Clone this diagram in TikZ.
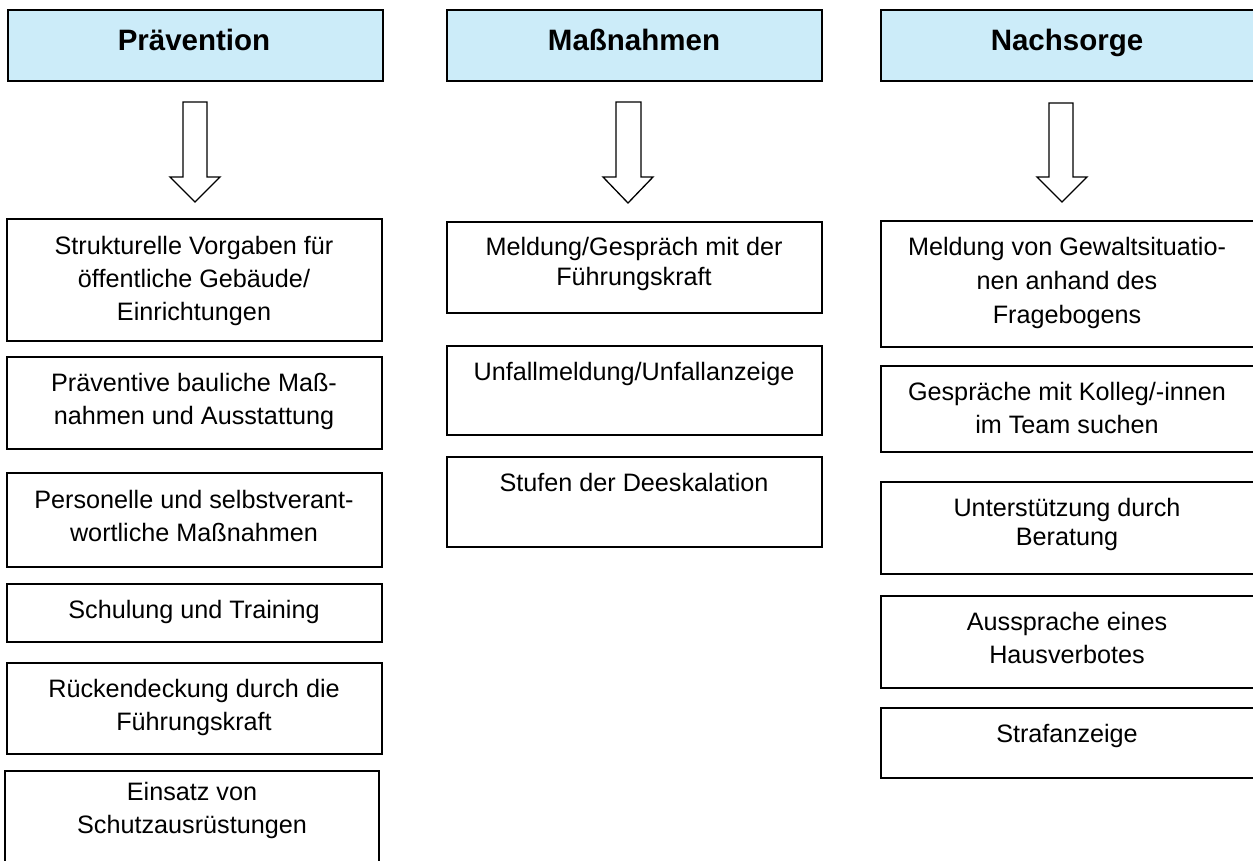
\documentclass[tikz,border=0pt]{standalone}
\usepackage{fontspec}
\setmainfont{Liberation Sans}
\definecolor{hdrfill}{RGB}{204,236,249}
\tikzset{
  hdr/.style={draw=black, line width=2pt, fill=hdrfill, minimum width=375pt, minimum height=71pt, inner sep=0pt},
  box/.style={draw=black, line width=1.8pt, minimum width=375pt, inner sep=0pt},
  hdrtxt/.style={font=\fontsize{29.5}{35}\selectfont\bfseries, anchor=base, inner sep=0pt},
  txt/.style={align=center, anchor=base, inner sep=0pt, font=\fontsize{25.2}{33}\selectfont},
  txtb/.style={txt, font=\fontsize{25.2}{30}\selectfont},
  blockarrow/.style={draw=black, line width=1.3pt, fill=white, line join=miter},
}
\begin{document}
\begin{tikzpicture}[x=1pt,y=-1pt]
\useasboundingbox (0,0) rectangle (1253,860);
\clip (0,0) rectangle (1253,860);

% headers
\node[hdr] (hp) at (195.5,45.5) {};
\node[hdr] (hm) at (634.5,45.5) {};
\node[hdr] (hn) at (1068.5,45.5) {};
\node[hdrtxt] (hpt) at (194,50) {Prävention};
\node[hdrtxt] (hmt) at (634,50) {Maßnahmen};
\node[hdrtxt] (hnt) at (1067,50) {Nachsorge};

% block arrows
\draw[blockarrow] (183,102) -- (207,102) -- (207,177) -- (220,177) -- (195,202) -- (170,177) -- (183,177) -- cycle;
\draw[blockarrow] (616,102) -- (641,102) -- (641,177) -- (653,177) -- (628,203) -- (603,177) -- (616,177) -- cycle;
\draw[blockarrow] (1049,103) -- (1073,103) -- (1073,177) -- (1087,177) -- (1062,202) -- (1037,177) -- (1049,177) -- cycle;

% left column
\node[box, minimum height=122pt] (p1) at (194.5,280) {};
\node[box, minimum height=92pt] (p2) at (194.5,403) {};
\node[box, minimum height=94pt] (p3) at (194.5,520) {};
\node[box, minimum height=58pt] (p4) at (194.5,613) {};
\node[box, minimum height=91pt] (p5) at (194.5,708.5) {};
\node[box, minimum width=374pt, minimum height=128pt] (p6) at (192,835) {};
\node[txt] (p1t) at (194,320) {Strukturelle Vorgaben für\\öffentliche Gebäude/\\Einrichtungen};
\node[txt] (p2t) at (194,424) {Präventive bauliche Maß-\\nahmen und Ausstattung};
\node[txt] (p3t) at (194,541) {Personelle und selbstverant-\\wortliche Maßnahmen};
\node[txt] (p4t) at (194,618) {Schulung und Training};
\node[txt] (p5t) at (194,730) {Rückendeckung durch die\\Führungskraft};
\node[txt] (p6t) at (192,833) {Einsatz von\\Schutzausrüstungen};

% middle column
\node[box, minimum height=91pt] (m1) at (634.5,267.5) {};
\node[box, minimum height=89pt] (m2) at (634.5,390.5) {};
\node[box, minimum height=90pt] (m3) at (634.5,502) {};
\node[txtb] (m1t) at (634,285) {Meldung/Gespräch mit der\\Führungskraft};
\node[txt] (m2t) at (634,380) {Unfallmeldung/Unfallanzeige};
\node[txt] (m3t) at (634,491) {Stufen der Deeskalation};

% right column
\node[box, minimum height=126pt] (n1) at (1068.5,284) {};
\node[box, minimum height=86pt] (n2) at (1068.5,409) {};
\node[box, minimum height=92pt] (n3) at (1068.5,528) {};
\node[box, minimum height=92pt] (n4) at (1068.5,642) {};
\node[box, minimum height=70pt] (n5) at (1068.5,743) {};
\node[txt, font=\fontsize{25.2}{34}\selectfont] (n1t) at (1067,323) {Meldung von Gewaltsituatio-\\nen anhand des\\Fragebogens};
\node[txt] (n2t) at (1067,433) {Gespräche mit Kolleg/-innen\\im Team suchen};
\node[txt, font=\fontsize{25.2}{29.5}\selectfont] (n3t) at (1067,545.5) {Unterstützung durch\\Beratung};
\node[txt] (n4t) at (1067,663) {Aussprache eines\\Hausverbotes};
\node[txt] (n5t) at (1067,742) {Strafanzeige};
\end{tikzpicture}
\end{document}
